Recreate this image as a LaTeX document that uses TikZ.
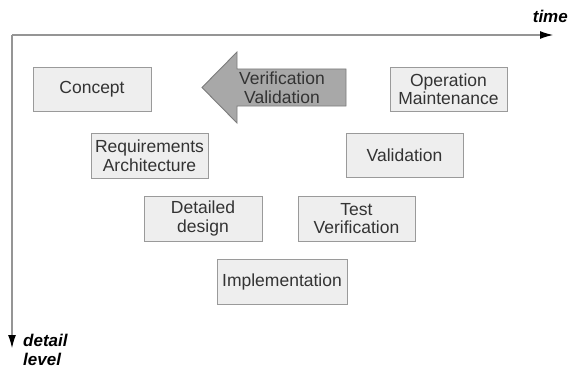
\documentclass[tikz,border=0pt]{standalone}
\usepackage{fontspec}
\setmainfont{Liberation Sans}
\usetikzlibrary{arrows.meta}
\definecolor{boxfill}{HTML}{EEEEEE}
\definecolor{boxline}{HTML}{9A9A9A}
\definecolor{boxtext}{HTML}{333333}
\definecolor{arrowfill}{HTML}{A8A8A8}
\definecolor{arrowline}{HTML}{7C7C7C}
\definecolor{axisline}{HTML}{959595}
\tikzset{
  stage/.style={draw=boxline, fill=boxfill, line width=0.9pt, text=boxtext,
    align=center, inner sep=0pt, minimum width=117pt, minimum height=44pt,
    font=\fontsize{17.5}{18.5}\selectfont},
  axis/.style={draw=axisline, line width=1.1pt,
    -{Latex[length=13pt,width=8pt,black]}},
  axislabel/.style={inner sep=0pt, align=left,
    font=\fontsize{17}{18.5}\selectfont\bfseries\itshape},
  backarrow/.style={draw=arrowline, fill=arrowfill, line width=0.9pt},
}
\begin{document}
\begin{tikzpicture}[x=1pt, y=-1pt]
  \useasboundingbox (0,0) rectangle (570,369);

  % axes
  \coordinate (origin) at (12,35);
  \coordinate (timeend) at (553,35);
  \coordinate (detailend) at (12,348);
  \draw[axis] (origin) -- (timeend);
  \draw[axis] (origin) -- (detailend);
  \node[axislabel, anchor=south east] (timelbl) at (568,23) {time};
  \node[axislabel, anchor=north west] (detaillbl) at (23,334) {detail\\level};

  % feedback arrow pointing back in time
  \draw[backarrow] (202,87.5) -- (237,52) -- (237,69) -- (346,69)
    -- (346,106) -- (237,106) -- (237,123) -- cycle;
  \node[text=boxtext, align=center, inner sep=0pt,
    font=\fontsize{17.5}{18.5}\selectfont] (vv) at (282,87.5)
    {Verification\\Validation};

  % development stages
  \node[stage, minimum width=118pt] (concept) at (92,89) {Concept};
  \node[stage] (operation) at (448.5,89) {Operation\\Maintenance};
  \node[stage, minimum height=45pt] (requirements) at (149.5,155.5) {Requirements\\Architecture};
  \node[stage] (validation) at (404.5,155) {Validation};
  \node[stage, minimum width=118pt, minimum height=45pt] (detailed) at (203,218.5) {Detailed\\design};
  \node[stage, minimum height=45pt] (test) at (356.5,218.5) {Test\\Verification};
  \node[stage, minimum width=130pt, minimum height=45pt] (impl) at (282,281.5) {Implementation};
\end{tikzpicture}
\end{document}
